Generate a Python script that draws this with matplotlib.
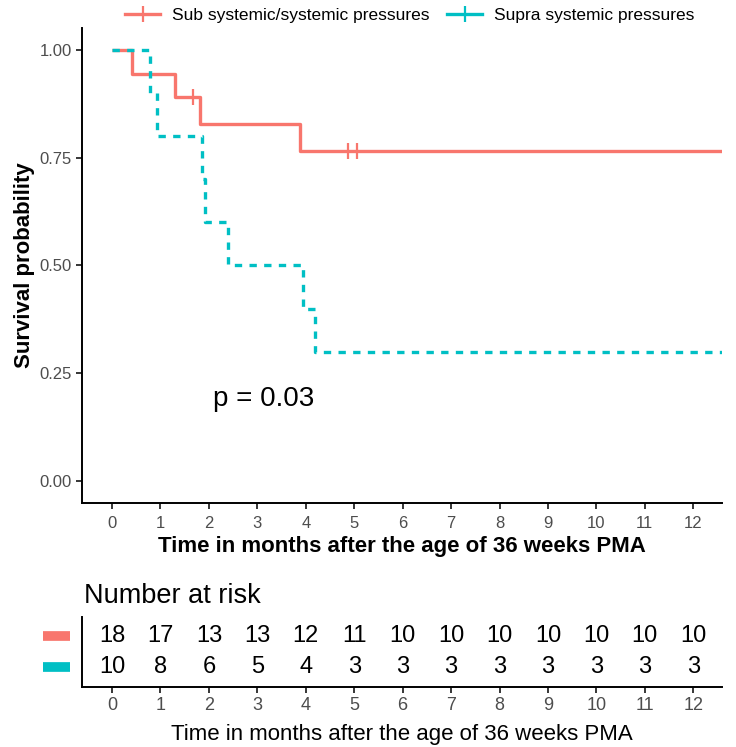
import numpy as np
import matplotlib
matplotlib.use("Agg")
import matplotlib.pyplot as plt
from matplotlib.lines import Line2D
import matplotlib.transforms as mtransforms

plt.rcParams['font.family'] = ['Liberation Sans', 'DejaVu Sans']

# data
groups = ['Sub systemic/systemic pressures', 'Supra systemic pressures']
colors = ['#F8766D', '#00BFC4']

sub_t = [0, 0.41, 1.30, 1.82, 3.88, 12.6]
sub_s = [1.0, 0.944, 0.889, 0.827, 0.764, 0.764]
sub_cens = [1.67, 4.87, 5.05]

supra_t = [0, 0.79, 0.93, 1.86, 1.92, 2.40, 3.95, 4.20, 12.6]
supra_s = [1.0, 0.9, 0.8, 0.7, 0.6, 0.5, 0.4, 0.3, 0.3]
supra_cens = []

risk_times = list(range(13))
sub_risk = [18, 17, 13, 13, 12, 11, 10, 10, 10, 10, 10, 10, 10]
supra_risk = [10, 8, 6, 5, 4, 3, 3, 3, 3, 3, 3, 3, 3]

p_text = 'p = 0.03'
xlabel = 'Time in months after the age of 36 weeks PMA'
tick_col = '#4D4D4D'


def surv_at(t, times, surv):
    idx = np.searchsorted(times, t, side='right') - 1
    return np.array(surv)[idx]


fig = plt.figure(figsize=(7.36, 7.47), dpi=100)

# main KM panel
ax = fig.add_axes([0.1114, 0.3266, 0.870, 0.636])
styles = ['-', (0, (2.2, 2.2))]
curves = [(sub_t, sub_s, sub_cens), (supra_t, supra_s, supra_cens)]
for (t, s, c), col, ls in zip(curves, colors, styles):
    ax.plot(t, s, drawstyle='steps-post', color=col, lw=2.4, linestyle=ls,
            solid_capstyle='butt', dash_capstyle='butt')
    if len(c):
        ax.plot(c, surv_at(c, t, s), linestyle='none', marker='|',
                markersize=11, markeredgewidth=1.6, color=col)

ax.set_xlim(-0.62, 12.6)
ax.set_ylim(-0.05, 1.05)
ax.set_xticks(risk_times)
ax.set_yticks([0, 0.25, 0.5, 0.75, 1.0])
ax.set_yticklabels(['0.00', '0.25', '0.50', '0.75', '1.00'])
for sp in ['top', 'right']:
    ax.spines[sp].set_visible(False)
for sp in ['left', 'bottom']:
    ax.spines[sp].set_linewidth(1.4)
ax.tick_params(length=4, width=1.1, labelsize=12, labelcolor=tick_col, colors='black')
ax.tick_params(axis='x', pad=5)
ax.set_ylabel('Survival probability', fontsize=16, fontweight='bold', labelpad=3)
ax.set_xlabel(xlabel, fontsize=16, fontweight='bold', labelpad=4)
ax.text(2.09, 0.19, p_text, fontsize=20, ha='left', va='center')

handles = [Line2D([], [], color=col, lw=2.4, marker='|', markersize=11,
                  markeredgewidth=1.6) for col in colors]
fig.legend(handles, groups, loc='center', bbox_to_anchor=(0.557, 0.979),
           ncol=2, frameon=False, fontsize=12.5, handlelength=2.0,
           columnspacing=1.0, handletextpad=0.7)

# risk table
ax2 = fig.add_axes([0.1114, 0.0803, 0.870, 0.094])
ax2.set_xlim(-0.62, 12.6)
ax2.set_ylim(0.36, 2.62)
for i, (n1, n2) in enumerate(zip(sub_risk, supra_risk)):
    ax2.text(risk_times[i], 2, str(n1), ha='center', va='center', fontsize=17)
    ax2.text(risk_times[i], 1, str(n2), ha='center', va='center', fontsize=17)
ax2.set_yticks([])
ax2.set_xticks(risk_times)
for sp in ['top', 'right']:
    ax2.spines[sp].set_visible(False)
for sp in ['left', 'bottom']:
    ax2.spines[sp].set_linewidth(1.4)
ax2.tick_params(length=4, width=1.1, labelsize=13, labelcolor=tick_col)
ax2.set_xlabel(xlabel, fontsize=16, labelpad=7)
ax2.set_title('Number at risk', loc='left', fontsize=19.5, pad=10, x=0.003)

trans = mtransforms.blended_transform_factory(ax2.transAxes, ax2.transData)
for yrow, col in zip([2, 1], colors):
    ax2.plot([-0.061, -0.019], [yrow, yrow], color=col, lw=7,
             transform=trans, clip_on=False, solid_capstyle='butt')

fig.savefig('out.png', dpi=100)
